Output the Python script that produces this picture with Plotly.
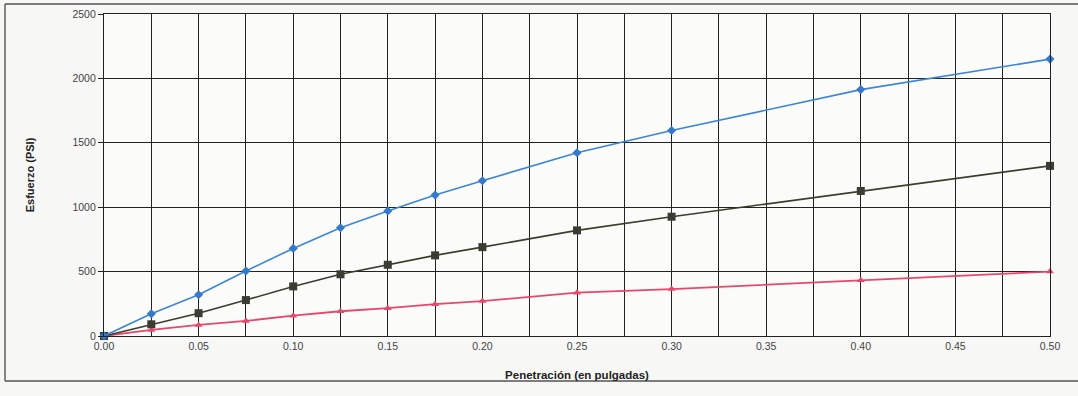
import plotly.graph_objects as go

penetracion = [0.0, 0.025, 0.05, 0.075, 0.10, 0.125, 0.15, 0.175, 0.20, 0.25, 0.30, 0.40, 0.50]
serie_azul = [0, 172, 320, 505, 680, 840, 970, 1094, 1205, 1423, 1595, 1913, 2150]
serie_negra = [0, 91, 177, 279, 385, 479, 553, 626, 690, 820, 926, 1126, 1321]
serie_roja = [0, 47, 86, 117, 158, 192, 216, 247, 271, 336, 364, 432, 500]

x_tickvals = [0.0, 0.05, 0.10, 0.15, 0.20, 0.25, 0.30, 0.35, 0.40, 0.45, 0.50]
y_tickvals = [0, 500, 1000, 1500, 2000, 2500]

W, H = 1078, 396
L, R, T, B = 104, 28, 14, 60
PW, PH = W - L - R, H - T - B


def px(x):
    return (x - L) / PW


def py(y):
    return (H - B - y) / PH


fig = go.Figure()
fig.add_trace(go.Scatter(x=penetracion, y=serie_roja, mode="lines+markers",
                         line=dict(color="#e8476c", width=1.8),
                         marker=dict(symbol="triangle-up", size=7, color="#e8476c"),
                         cliponaxis=False, showlegend=False))
fig.add_trace(go.Scatter(x=penetracion, y=serie_negra, mode="lines+markers",
                         line=dict(color="#3b3d2c", width=1.6),
                         marker=dict(symbol="square", size=8, color="#3b3d33"),
                         cliponaxis=False, showlegend=False))
fig.add_trace(go.Scatter(x=penetracion, y=serie_azul, mode="lines+markers",
                         line=dict(color="#3b86d8", width=1.6),
                         marker=dict(symbol="diamond", size=7, color="#3479cc"),
                         cliponaxis=False, showlegend=False))

border = dict(color="#555555", width=1.4)
fig.update_layout(
    width=W, height=H,
    margin=dict(l=L, r=R, t=T, b=B, autoexpand=False),
    paper_bgcolor="#f7f7f5", plot_bgcolor="#fbfbfa",
    font=dict(family="Liberation Sans, Arial, sans-serif", size=10, color="#333333"),
    xaxis=dict(range=[0, 0.5], tickvals=x_tickvals, tickformat=".2f", automargin=False,
               showgrid=True, gridcolor="#222222", gridwidth=1.3,
               minor=dict(dtick=0.025, showgrid=True, gridcolor="#222222", gridwidth=1.3),
               zeroline=False, showline=True, mirror=True, linecolor="#222222", linewidth=1.3,
               ticks="", tickfont=dict(size=10.5, color="#444444"),
               title=dict(text="<b>Penetración (en pulgadas)</b>", font=dict(size=11.5, color="#222222"), standoff=20)),
    yaxis=dict(range=[0, 2500], tickvals=y_tickvals, automargin=False,
               showgrid=True, gridcolor="#222222", gridwidth=1.3,
               zeroline=False, showline=True, mirror=True, linecolor="#222222", linewidth=1.3,
               ticks="outside", ticklen=5, tickcolor="#222222",
               tickfont=dict(size=10.5, color="#444444"),
               title=dict(text="<b>Esfuerzo (PSI)</b>", font=dict(size=11, color="#222222"), standoff=35)),
    shapes=[
        dict(type="line", xref="paper", yref="paper", x0=px(5), x1=px(1078), y0=py(4), y1=py(4), line=border),
        dict(type="line", xref="paper", yref="paper", x0=px(5), x1=px(5), y0=py(4), y1=py(381), line=border),
        dict(type="line", xref="paper", yref="paper", x0=px(5), x1=px(1078), y0=py(381), y1=py(381), line=border),
    ],
)

fig.write_html("out.html", config={"displayModeBar": False},
               post_script="document.body.style.margin='0';")
